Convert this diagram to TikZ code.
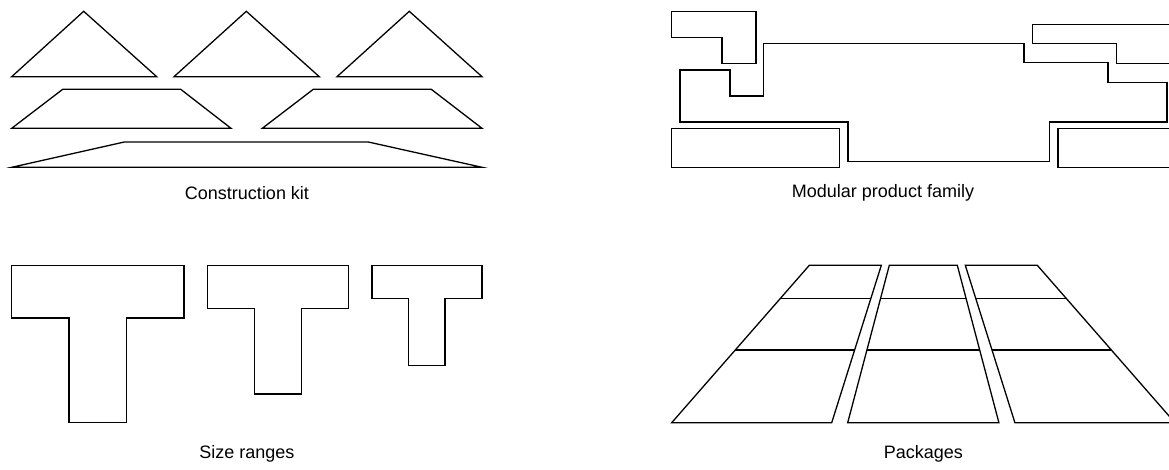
\documentclass[tikz,border=0pt]{standalone}
\usepackage{fontspec}
\setmainfont{Liberation Sans}
\usetikzlibrary{calc}
\begin{document}
\begin{tikzpicture}[x=1pt,y=-1pt,
  outline/.style={draw=black,line width=1.3pt,line join=miter},
  rowline/.style={draw=black,line width=1.3pt},
  caption/.style={font=\fontsize{18}{21}\selectfont,inner sep=0pt,anchor=center}]
\useasboundingbox (0,0) rectangle (1169,469);
\fill[white] (0,0) rectangle (1169,469);
\clip (0,0) rectangle (1169,469);

% ---------- Construction kit ----------
\draw[outline] (11.7,76.7) -- (83.7,11.3) -- (156.7,76.7) -- cycle;
\draw[outline] (174,76.7) -- (246.3,11.3) -- (319.3,76.7) -- cycle;
\draw[outline] (337,76.7) -- (409.3,11.3) -- (482,76.7) -- cycle;
\draw[outline] (11.7,128.3) -- (62.7,89.3) -- (180.7,89.3) -- (231,128.3) -- cycle;
\draw[outline] (262.3,128.3) -- (313.3,89.3) -- (431.3,89.3) -- (482,128.3) -- cycle;
\draw[outline] (11.7,167.3) -- (124.3,142) -- (368.3,142) -- (482,167.3) -- cycle;
\node[caption] (ck) at (247,193) {Construction kit};

% ---------- Modular product family ----------
\draw[outline] (671.3,11.3) -- (756,11.3) -- (756,63.3) -- (722,63.3) -- (722,37.3) -- (671.3,37.3) -- cycle;
\draw[outline] (680,70) -- (730,70) -- (730,96) -- (763.7,96) -- (763.7,43.3) -- (1024,43.3) -- (1024,62.7)
  -- (1108,62.7) -- (1108,82.7) -- (1167,82.7) -- (1167,122) -- (1049.3,122) -- (1049.3,161.3)
  -- (848,161.3) -- (848,122) -- (680,122) -- cycle;
\draw[outline] (1032.7,24.3) -- (1185,24.3) -- (1185,63.3) -- (1116.7,63.3) -- (1116.7,43.3) -- (1032.7,43.3) -- cycle;
\draw[outline] (671.7,128.3) rectangle (839.3,167.7);
\draw[outline] (1058,128.3) rectangle (1185,167.7);
\node[caption] (mpf) at (883,193) {Modular product family};

% ---------- Size ranges ----------
\draw[outline] (11.7,265.3) -- (184,265.3) -- (184,318) -- (126.3,318) -- (126.3,422.7) -- (69,422.7) -- (69,318) -- (11.7,318) -- cycle;
\draw[outline] (207.3,265.3) -- (348.7,265.3) -- (348.7,308.3) -- (301.7,308.3) -- (301.7,394) -- (254.7,394) -- (254.7,308.3) -- (207.3,308.3) -- cycle;
\draw[outline] (372,265.3) -- (482,265.3) -- (482,298.7) -- (445,298.7) -- (445,365.3) -- (408.7,365.3) -- (408.7,298.7) -- (372,298.7) -- cycle;
\node[caption] (sr) at (247,454) {Size ranges};

% ---------- Packages ----------
\def\pc{923.3}
\def\ptop{265.3}
\def\pbot{422.7}
\coordinate (LTL) at (\pc-114,\ptop);
\coordinate (LTR) at (\pc-42,\ptop);
\coordinate (LBR) at (\pc-91.6,\pbot);
\coordinate (LBL) at (\pc-251.6,\pbot);
\coordinate (MTL) at (\pc-34,\ptop);
\coordinate (MTR) at (\pc+34,\ptop);
\coordinate (MBR) at (\pc+75.6,\pbot);
\coordinate (MBL) at (\pc-75.6,\pbot);
\coordinate (RTL) at (\pc+42,\ptop);
\coordinate (RTR) at (\pc+114,\ptop);
\coordinate (RBR) at (\pc+251.6,\pbot);
\coordinate (RBL) at (\pc+91.6,\pbot);
\foreach \c in {L,M,R}{
  \draw[outline] (\c TL) -- (\c TR) -- (\c BR) -- (\c BL) -- cycle;
  \draw[rowline] ($(\c TL)!0.212!(\c BL)$) -- ($(\c TR)!0.212!(\c BR)$);
  \draw[rowline] ($(\c TL)!0.538!(\c BL)$) -- ($(\c TR)!0.538!(\c BR)$);
}
\node[caption] (pk) at (\pc,454) {Packages};
\end{tikzpicture}
\end{document}
